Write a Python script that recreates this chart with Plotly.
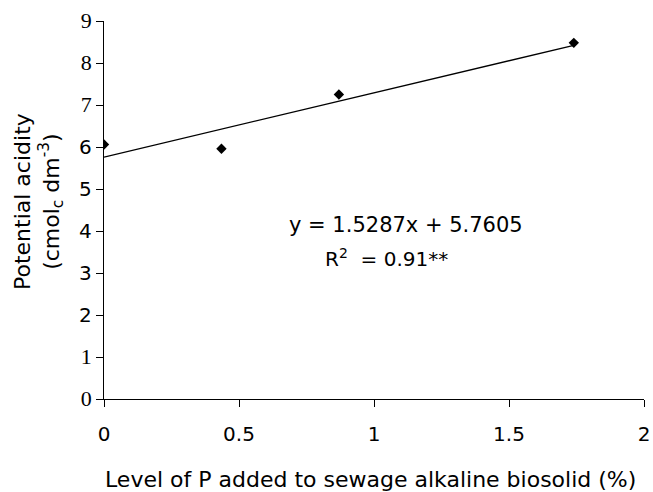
import plotly.graph_objects as go

# Data
p_level = [0, 0.435, 0.87, 1.74]
acidity = [6.06, 5.96, 7.25, 8.48]
slope = 1.5287
intercept = 5.7605
fit_x = [0, 1.74]
fit_y = [slope * x + intercept for x in fit_x]

y_tickvals = [0, 1, 2, 3, 4, 5, 6, 7, 8, 9]
serif_ticks = {0, 1, 7, 8, 9}
x_tickvals = [0, 0.5, 1, 1.5, 2]
x_ticktext = ["0", "0.5", "1", "1.5", "2"]

sans = "DejaVu Sans, Arial, sans-serif"
serif = "'Liberation Serif', 'Times New Roman', serif"

def ytext(v):
    if v in serif_ticks:
        return f"<span style=\"font-family:{serif}; font-size:22px\">{v}</span>"
    return str(v)

fig = go.Figure()
fig.add_trace(go.Scatter(x=fit_x, y=fit_y, mode="lines",
                         line=dict(color="black", width=1.3), showlegend=False))
fig.add_trace(go.Scatter(x=p_level, y=acidity, mode="markers",
                         marker=dict(symbol="diamond", size=8, color="black"),
                         showlegend=False))

fig.update_layout(
    width=653, height=492,
    margin=dict(l=104, r=9, t=21, b=93),
    paper_bgcolor="white", plot_bgcolor="white",
    font=dict(family=sans, size=20, color="black"),
    xaxis=dict(range=[0, 2], tickvals=x_tickvals, ticktext=x_ticktext,
               showgrid=False, zeroline=False, showline=True, linecolor="black",
               linewidth=1.3, ticks="outside", ticklen=7, tickcolor="black",
               tickwidth=1, ticklabelstandoff=10, automargin=False,
               tickfont=dict(family=sans, size=20)),
    yaxis=dict(range=[0, 9], tickvals=y_tickvals,
               ticktext=[ytext(v) for v in y_tickvals],
               showgrid=False, zeroline=False, showline=True, linecolor="black",
               linewidth=1.3, ticks="outside", ticklen=7, tickcolor="black",
               tickwidth=1, automargin=False, tickfont=dict(family=sans, size=20)),
    annotations=[
        dict(text="Level of P added to sewage alkaline biosolid (%)",
             xref="paper", yref="paper", x=(370 - 104) / 540, y=(399 - 480) / 378,
             showarrow=False, xanchor="center", yanchor="middle",
             font=dict(family=sans, size=22)),
        dict(text="Potential acidity<br>(cmol<sub>c</sub> dm<sup>-3</sup>)",
             xref="paper", yref="paper", x=(38 - 104) / 540, y=(399 - 202) / 378,
             showarrow=False, xanchor="center", yanchor="middle", textangle=-90,
             font=dict(family=sans, size=22)),
        dict(text="y = 1.5287x + 5.7605", xref="paper", yref="paper",
             x=(287 - 104) / 540, y=(399 - 225) / 378, xanchor="left", yanchor="middle",
             showarrow=False, font=dict(family=sans, size=21)),
        dict(text="R<sup>2</sup>  = 0.91**", xref="paper", yref="paper",
             x=(323 - 104) / 540, y=(399 - 258) / 378, xanchor="left", yanchor="middle",
             showarrow=False, font=dict(family=sans, size=20)),
    ],
)

fig.write_html("out.html", config={"displayModeBar": False},
               post_script="document.body.style.margin='0';document.body.style.overflow='hidden';")
